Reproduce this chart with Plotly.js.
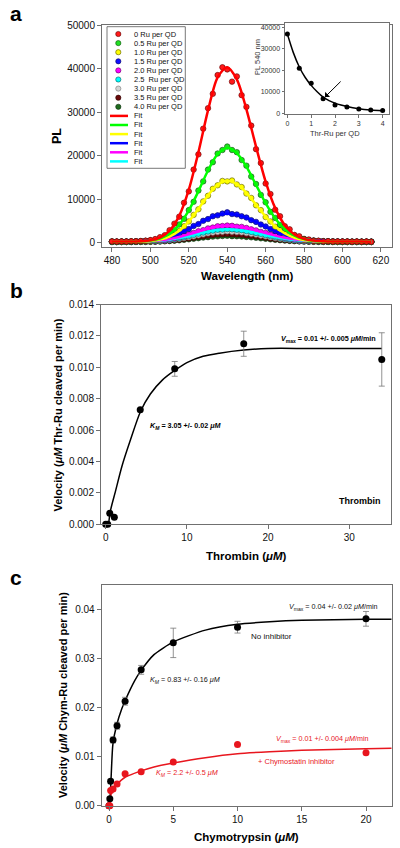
<!DOCTYPE html>
<html>
<head>
<meta charset="utf-8">
<script src="https://cdn.plot.ly/plotly-3.0.1.min.js"></script>
<style>html,body{margin:0;padding:0;background:#fff;}#chart{width:400px;height:848px;}</style>
</head>
<body>
<div id="chart"></div>
<script>
// ---------- Panel a: PL spectra ----------
const wavelength = [480,482.5,485,487.5,490,492.5,495,497.5,500,502.5,505,507.5,510,512.5,515,517.5,520,522.5,525,527.5,530,532.5,535,537.5,540,542.5,545,547.5,550,552.5,555,557.5,560,562.5,565,567.5,570,572.5,575,577.5,580,582.5,585,587.5,590,592.5,595,597.5,600,602.5,605,607.5,610,612.5,615];
const seriesNames = ['0 Ru per QD','0.5 Ru per QD','1.0 Ru per QD','1.5 Ru per QD','2.0 Ru per QD','2.5  Ru per QD','3.0 Ru per QD','3.5 Ru per QD','4.0 Ru per QD'];
const pl_0_0 = [320,290,310,300,350,330,420,480,620,850,1300,1750,2900,4400,6000,9200,11800,16800,20300,26200,30900,34200,38500,40300,39800,37000,38200,33900,31200,26900,21500,18300,13600,11200,7600,6100,3800,3100,1800,1500,800,750,450,480,330,380,280,320,270,300,260,290,250,280,240];
const pl_0_5 = [260,240,270,250,280,300,330,420,510,720,980,1450,2100,2900,4200,5500,7500,9400,12000,14100,16800,18500,20500,21300,22100,21300,20800,19000,17700,15200,13500,11000,9300,7100,5700,4100,3200,2200,1700,1150,900,620,500,380,340,290,280,260,250,260,240,250,240,250,240];
const pl_1_0 = [270,240,260,250,270,290,300,360,410,560,720,1050,1400,2050,2700,3800,4900,6400,7700,9500,10800,12400,13200,14200,14100,14300,13400,12800,11300,10300,8600,7500,5900,4900,3700,2900,2100,1650,1150,900,640,520,400,350,300,290,260,260,250,260,240,250,240,250,240];
const pl_1_5 = [270,250,270,280,290,340,370,450,520,680,820,1100,1330,1750,2100,2700,3150,3850,4300,5050,5450,6100,6300,6700,7000,6600,6500,6100,5800,5200,4800,4200,3750,3150,2700,2200,1900,1450,1250,950,800,620,540,430,390,330,310,280,280,260,260,250,250,250,250];
const pl_2_0 = [260,250,270,260,280,290,330,350,420,480,600,700,890,1050,1350,1600,1950,2250,2650,2900,3300,3500,3800,3850,3950,3900,3700,3650,3400,3100,2850,2500,2250,1900,1650,1400,1150,980,800,680,550,480,400,370,320,300,290,270,260,260,250,250,250,250,250];
const pl_2_5 = [230,220,230,240,240,260,270,310,350,400,490,580,720,880,1080,1290,1550,1820,2100,2350,2600,2800,3000,3050,3150,3100,3000,2900,2700,2500,2250,2050,1780,1550,1320,1130,940,790,660,550,470,400,350,310,280,260,250,240,230,230,220,220,220,220,220];
const pl_3_0 = [210,200,210,210,220,230,250,270,300,360,420,500,620,740,910,1100,1300,1500,1750,1950,2200,2350,2500,2550,2650,2550,2500,2400,2250,2100,1900,1700,1500,1300,1100,950,800,670,560,470,400,350,300,270,250,230,220,210,210,200,200,200,200,200,200];
const pl_3_5 = [190,180,190,190,190,200,220,230,260,300,340,420,490,600,700,860,1000,1150,1350,1500,1650,1800,1900,1950,2000,1950,1900,1850,1700,1600,1450,1300,1150,1000,850,740,620,530,450,380,330,290,260,230,220,200,200,190,190,180,180,180,180,180,180];
const pl_4_0 = [170,160,160,170,170,180,190,200,220,250,290,340,400,480,570,680,800,930,1060,1200,1300,1420,1480,1550,1600,1520,1500,1450,1350,1260,1150,1030,920,800,690,600,510,430,370,320,280,250,220,200,190,180,170,170,160,160,160,160,160,160,160];

const fitWavelength = [480,485,490,495,500,505,510,515,520,525,530,535,540,545,550,555,560,565,570,575,580,585,590,595,600,605,610,615];
const fit_0_0 = [300,300,320,370,570,1190,2790,6190,12200,20800,30400,38000,40300,37500,30650,22080,14060,7960,4050,1920,910,500,360,300,290,280,270,260];
const fit_0_5 = [250,255,271,334,517,996,2070,4120,7430,11840,16590,20330,21750,20590,17470,13300,9090,5600,3150,1660,865,487,334,272,255,250,250,250];
const fit_1_0 = [250,254,264,305,424,736,1434,2770,4926,7796,10890,13326,14250,13494,11464,8748,6004,3736,2140,1170,652,404,305,264,254,250,250,250];
const fit_1_5 = [256,267,299,373,531,835,1351,2138,3181,4378,5517,6343,6650,6407,5735,4775,3700,2688,1844,1216,792,531,385,310,275,260,253,251];
const fit_2_0 = [253,260,278,320,410,584,878,1327,1922,2604,3254,3725,3900,3761,3378,2831,2217,1641,1159,801,559,410,327,284,264,255,252,251];
const fit_2_5 = [223,228,242,276,347,485,719,1075,1548,2090,2607,2981,3120,3010,2705,2270,1783,1325,942,658,466,347,281,247,231,224,222,220];

// Inset
const ruPerQD = [0,0.5,1,1.5,2,2.5,3,3.5,4];
const pl540 = [37000,21000,14000,6800,3900,2900,2000,1500,1300];
const fitRuPerQD = [0,0.25,0.5,0.75,1,1.25,1.5,1.75,2,2.25,2.5,3,3.5,4];
const fitPl540 = [37000,28300,21600,16700,13000,10000,7500,5900,4700,3800,3100,2100,1500,1150];

// ---------- Panel b: thrombin ----------
const thrombin = [0,0.25,0.5,1.06,4.25,8.5,17,34];
const thrVelocity = [0,0,0.0007,0.00045,0.0073,0.0099,0.0115,0.0105];
const thrError = [0,0,0,0,0,0.00047,0.0008,0.0017];
const thrFitX = [0.35,0.6,1.2,2.0,3.0,4.3,5.5,7,8.5,10,12,14,17,20,25,30,34];
const thrFitY = [0,0.0009,0.0021,0.0037,0.0053,0.0072,0.0083,0.0092,0.0098,0.0103,0.0107,0.0109,0.0111,0.0112,0.0112,0.0112,0.0112];

// ---------- Panel c: chymotrypsin ----------
const chymo = [0,0.0625,0.125,0.3125,0.625,1.25,2.5,5,10,20];
const chymVelNoInh = [0,0.0014,0.0050,0.0134,0.0163,0.0213,0.0277,0.0332,0.0364,0.0381];
const chymErrNoInh = [0,0.0003,0.0004,0.0006,0.0007,0.0008,0.0009,0.0030,0.0012,0.0015];
const chymVelInh = [0,0,0.0031,0.0034,0.0044,0.0065,0.0069,0.0089,0.0125,0.0108];
const chymFitX = [0.05,0.15,0.3,0.6,1.0,1.25,2.0,2.5,3.5,5,7.5,10,12.5,15,20,22];
const chymFitNoInh = [0,0.005,0.0125,0.0165,0.0198,0.0214,0.0255,0.0276,0.0308,0.0334,0.0358,0.0370,0.0375,0.0378,0.0380,0.0380];
const chymFitInhX = [0.08,0.15,0.3,0.6,1.25,2.5,3.5,5,7.5,10,12.5,15,20,22];
const chymFitInh = [0,0.0022,0.0033,0.0043,0.0058,0.0071,0.0079,0.0087,0.0098,0.0106,0.0110,0.0113,0.0116,0.0117];

// ---------- styling ----------
const FONT = 'Liberation Sans, Arial, Helvetica, sans-serif';
const W = 400, H = 848;
const px = v => v / W;
const py = v => 1 - v / H;

const dataSeries = [pl_0_0, pl_0_5, pl_1_0, pl_1_5, pl_2_0, pl_2_5, pl_3_0, pl_3_5, pl_4_0];
const markerFill = ['#ff1a1a','#22e022','#ffff00','#1010ff','#ff00ff','#00ffff','#d4d4d4','#6a0a0a','#1e6b1e'];
const markerEdge = ['#5a0000','#0a4a0a','#555500','#00005a','#5a005a','#005a5a','#777777','#2a0000','#0a2a0a'];
const fitSeries = [fit_0_0, fit_0_5, fit_1_0, fit_1_5, fit_2_0, fit_2_5];
const fitColors = ['#ff0000','#00ff00','#ffff00','#0000ff','#ff00ff','#00ffff'];

const traces = [];
for (let i = dataSeries.length - 1; i >= 0; i--) {
  traces.push({x: wavelength, y: dataSeries[i], type: 'scatter', mode: 'markers', name: seriesNames[i],
    xaxis: 'x', yaxis: 'y', showlegend: false,
    marker: {size: 5.5, color: markerFill[i], line: {color: markerEdge[i], width: 0.6}}});
}
for (let i = fitSeries.length - 1; i >= 0; i--) {
  traces.push({x: fitWavelength, y: fitSeries[i], type: 'scatter', mode: 'lines', name: 'Fit',
    xaxis: 'x', yaxis: 'y', showlegend: false,
    line: {color: fitColors[i], width: 2.5, shape: 'spline', smoothing: 0.8}});
}
// inset
traces.push({x: fitRuPerQD, y: fitPl540, type: 'scatter', mode: 'lines', xaxis: 'x2', yaxis: 'y2', showlegend: false,
  line: {color: '#000', width: 1.5, shape: 'spline', smoothing: 0.8}});
traces.push({x: ruPerQD, y: pl540, type: 'scatter', mode: 'markers', xaxis: 'x2', yaxis: 'y2', showlegend: false,
  marker: {size: 5, color: '#000'}, cliponaxis: false});
// panel b
traces.push({x: thrFitX, y: thrFitY, type: 'scatter', mode: 'lines', xaxis: 'x3', yaxis: 'y3', showlegend: false,
  line: {color: '#000', width: 1.5, shape: 'spline', smoothing: 0.8}});
traces.push({x: thrombin, y: thrVelocity, type: 'scatter', mode: 'markers', xaxis: 'x3', yaxis: 'y3', showlegend: false,
  marker: {size: 7, color: '#000'}, cliponaxis: false,
  error_y: {type: 'data', array: thrError, visible: true, color: '#777', thickness: 0.8, width: 3}});
// panel c
traces.push({x: chymFitX, y: chymFitNoInh, type: 'scatter', mode: 'lines', xaxis: 'x4', yaxis: 'y4', showlegend: false,
  line: {color: '#000', width: 1.5, shape: 'spline', smoothing: 0.6}});
traces.push({x: chymFitInhX, y: chymFitInh, type: 'scatter', mode: 'lines', xaxis: 'x4', yaxis: 'y4', showlegend: false,
  line: {color: '#e8161e', width: 1.5, shape: 'spline', smoothing: 0.6}});
traces.push({x: chymo, y: chymVelNoInh, type: 'scatter', mode: 'markers', xaxis: 'x4', yaxis: 'y4', showlegend: false,
  marker: {size: 7, color: '#000'}, cliponaxis: false,
  error_y: {type: 'data', array: chymErrNoInh, visible: true, color: '#777', thickness: 0.8, width: 3}});
traces.push({x: chymo, y: chymVelInh, type: 'scatter', mode: 'markers', xaxis: 'x4', yaxis: 'y4', showlegend: false,
  marker: {size: 7, color: '#e8161e'}, cliponaxis: false});

function axis(extra) {
  return Object.assign({
    showline: true, linecolor: '#707070', linewidth: 1, mirror: true,
    ticks: 'outside', ticklen: 4, tickwidth: 1, tickcolor: '#707070',
    showgrid: false, zeroline: false, fixedrange: true,
    tickfont: {family: FONT, size: 10, color: '#111'}
  }, extra);
}
const smallTick = {family: FONT, size: 7, color: '#333'};

const annotations = [];
function txt(x, y, text, opts) {
  annotations.push(Object.assign({xref: 'paper', yref: 'paper', x: px(x), y: py(y), text: text, showarrow: false,
    xanchor: 'center', yanchor: 'middle', font: {family: FONT, size: 10, color: '#000'}}, opts || {}));
}
// panel letters
txt(16, 14, '<b>a</b>', {font: {family: FONT, size: 21, color: '#000'}});
txt(16, 290, '<b>b</b>', {font: {family: FONT, size: 21, color: '#000'}});
txt(16, 577, '<b>c</b>', {font: {family: FONT, size: 21, color: '#000'}});
// axis titles
txt(57, 136, '<b>PL</b>', {textangle: -90, font: {family: FONT, size: 12.5, color: '#000'}});
txt(247, 276, '<b>Wavelength (nm)</b>', {font: {family: FONT, size: 11.5, color: '#000'}});
txt(58, 414.6, '<b>Velocity (<i>μM</i> Thr-Ru cleaved per min)</b>', {textangle: -90, font: {family: FONT, size: 11, color: '#000'}});
txt(246, 556, '<b>Thrombin (<i>μM</i>)</b>', {font: {family: FONT, size: 11.5, color: '#000'}});
txt(63, 695, '<b>Velocity (<i>μM</i> Chym-Ru cleaved per min)</b>', {textangle: -90, font: {family: FONT, size: 11, color: '#000'}});
txt(246, 836.5, '<b>Chymotrypsin (<i>μM</i>)</b>', {font: {family: FONT, size: 11.5, color: '#000'}});
// inset titles
txt(257, 57, 'PL 540 nm', {textangle: -90, font: {family: FONT, size: 7.5, color: '#333'}});
txt(335, 133.5, 'Thr-Ru per QD', {font: {family: FONT, size: 7.5, color: '#333'}});
// panel b text
txt(378, 339, '<b><i>V</i><sub>max</sub> = 0.01 +/- 0.005 <i>μM</i>/min</b>', {xanchor: 'right', font: {family: FONT, size: 7.2, color: '#000'}});
txt(147.5, 426, '<b><i>K</i><sub><i>M</i></sub> = 3.05 +/- 0.02 <i>μM</i></b>', {xanchor: 'left', font: {family: FONT, size: 7.2, color: '#000'}});
txt(336.5, 501, '<b>Thrombin</b>', {xanchor: 'left', font: {family: FONT, size: 9, color: '#000'}});
// panel c text
txt(286.5, 606.5, '<i>V</i><sub>max</sub> = 0.04 +/- 0.02 <i>μM</i>/min', {xanchor: 'left', font: {family: FONT, size: 7.2, color: '#111'}});
txt(249.3, 636.7, 'No inhibitor', {xanchor: 'left', font: {family: FONT, size: 8, color: '#111'}});
txt(148.3, 680, '<i>K</i><sub><i>M</i></sub> = 0.83 +/- 0.16 <i>μM</i>', {xanchor: 'left', font: {family: FONT, size: 7.2, color: '#111'}});
txt(274, 739.3, '<i>V</i><sub>max</sub> = 0.01 +/- 0.004 <i>μM</i>/min', {xanchor: 'left', font: {family: FONT, size: 7.2, color: '#e8161e'}});
txt(256, 761.7, '+ Chymostatin inhibitor', {xanchor: 'left', font: {family: FONT, size: 7.5, color: '#e8161e'}});
txt(154, 773.3, '<i>K</i><sub><i>M</i></sub> = 2.2 +/- 0.5 <i>μM</i>', {xanchor: 'left', font: {family: FONT, size: 7.2, color: '#e8161e'}});
// inset arrow
annotations.push({xref: 'x2', yref: 'y2', axref: 'x2', ayref: 'y2', x: 1.58, y: 7600, ax: 2.3, ay: 15500,
  text: '', showarrow: true, arrowhead: 1, arrowsize: 1.2, arrowwidth: 1, arrowcolor: '#000'});

// custom legend for panel a
const shapes = [];
const LEG_ROW0 = 34, LEG_STEP = 9.1;
shapes.push({type: 'rect', xref: 'paper', yref: 'paper', x0: px(107), x1: px(185.3), y0: py(168.3), y1: py(26.7),
  line: {color: '#555', width: 0.8}, fillcolor: '#fff', layer: 'above'});
for (let i = 0; i < seriesNames.length; i++) {
  const cy = LEG_ROW0 + LEG_STEP * i;
  shapes.push({type: 'circle', xref: 'paper', yref: 'paper', x0: px(118.3 - 2.6), x1: px(118.3 + 2.6),
    y0: py(cy + 2.6), y1: py(cy - 2.6), fillcolor: markerFill[i], line: {color: markerEdge[i], width: 0.6}, layer: 'above'});
  txt(132, cy, seriesNames[i], {xanchor: 'left', font: {family: FONT, size: 7.5, color: '#111'}});
}
for (let j = 0; j < fitColors.length; j++) {
  const cy = LEG_ROW0 + LEG_STEP * (seriesNames.length + j);
  shapes.push({type: 'line', xref: 'paper', yref: 'paper', x0: px(110), x1: px(128), y0: py(cy), y1: py(cy),
    line: {color: fitColors[j], width: 2.5}, layer: 'above'});
  txt(132, cy, 'Fit', {xanchor: 'left', font: {family: FONT, size: 7.5, color: '#111'}});
}
// white background for inset (drawn in the inset subplot, below its own traces)
shapes.push({type: 'rect', xref: 'x2', yref: 'y2', x0: -0.1, x1: 4.28, y0: -500, y1: 42000,
  fillcolor: '#fff', line: {width: 0}, layer: 'below'});

const layout = {
  width: W, height: H,
  margin: {l: 0, r: 0, t: 0, b: 0},
  paper_bgcolor: '#fff', plot_bgcolor: '#fff',
  showlegend: false,
  font: {family: FONT, size: 10, color: '#000'},
  xaxis: axis({domain: [px(102), px(392)], anchor: 'y', range: [474.8, 625.8], tickvals: [480,500,520,540,560,580,600,620]}),
  yaxis: axis({domain: [py(246.8), py(25)], anchor: 'x', range: [-920, 50000], tickvals: [0,10000,20000,30000,40000,50000], tickformat: 'd'}),
  xaxis2: axis({domain: [px(285), px(389.3)], anchor: 'y2', range: [-0.1, 4.28], tickvals: [0,1,2,3,4], ticklen: 2.5, tickfont: smallTick}),
  yaxis2: axis({domain: [py(114.3), py(23.3)], anchor: 'x2', range: [-500, 42000], tickvals: [0,10000,20000,30000,40000], tickformat: 'd', ticklen: 2.5, tickfont: smallTick}),
  xaxis3: axis({domain: [px(101), px(390.7)], anchor: 'y3', range: [-0.58, 35.1], tickvals: [0,10,20,30]}),
  yaxis3: axis({domain: [py(524.3), py(304.5)], anchor: 'x3', range: [0, 0.014], tickvals: [0,0.002,0.004,0.006,0.008,0.010,0.012,0.014], tickformat: '.3f'}),
  xaxis4: axis({domain: [px(101.7), px(391.7)], anchor: 'y4', range: [-0.57, 22], tickvals: [0,5,10,15,20]}),
  yaxis4: axis({domain: [py(805.7), py(585)], anchor: 'x4', range: [0, 0.045], tickvals: [0,0.01,0.02,0.03,0.04], tickformat: '.2f'}),
  annotations: annotations,
  shapes: shapes
};

Plotly.newPlot('chart', traces, layout, {displayModeBar: false, staticPlot: true});
</script>
</body>
</html>
